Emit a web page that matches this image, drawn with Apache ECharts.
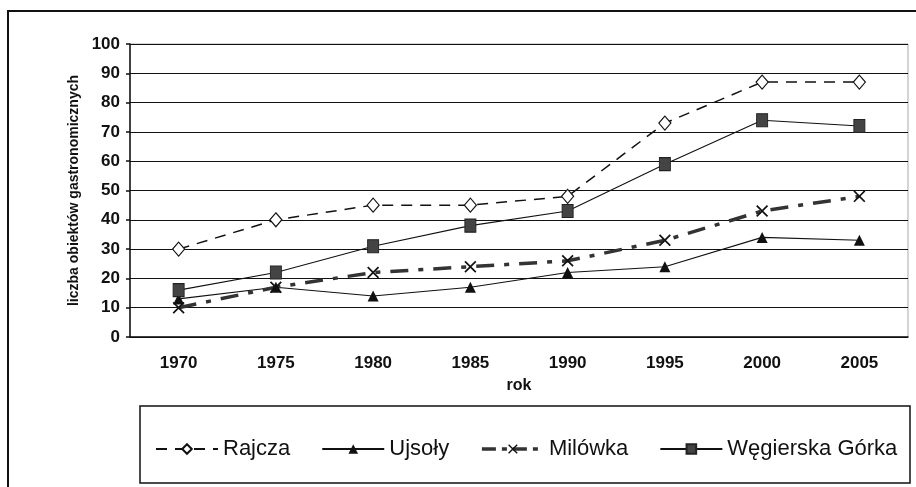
<!DOCTYPE html>
<html style="height: 100%">
<head>
  <meta charset="utf-8">
  <title>Liczba obiektów gastronomicznych</title>
  <script src="https://cdn.jsdelivr.net/npm/echarts@6/dist/echarts.min.js"></script>
</head>
<body style="margin: 0; height: 100%; background: #fff">
  <div id="main" style="width: 916px; height: 487px"></div>

  <script>
    const years = ['1970', '1975', '1980', '1985', '1990', '1995', '2000', '2005'];
    const rajcza = [30, 40, 45, 45, 48, 73, 87, 87];
    const ujsoly = [13, 17, 14, 17, 22, 24, 34, 33];
    const milowka = [10, 17, 22, 24, 26, 33, 43, 48];
    const wegierska = [16, 22, 31, 38, 43, 59, 74, 72];

    const crossPath = 'path://M0,1L1,0L5,4L9,0L10,1L6,5L10,9L9,10L5,6L1,10L0,9L4,5Z';
    const boldFont = { fontFamily: 'Liberation Sans, Arial', fontWeight: 'bold', color: '#111' };
    const milowkaLine = { color: '#333', width: 3.5, type: [18, 10, 5, 10] };

    const chart = echarts.init(document.getElementById('main'));

    chart.setOption({
      animation: false,
      backgroundColor: '#fff',
      graphic: [
        { type: 'rect', shape: { x: 8, y: 11, width: 930, height: 500 },
          style: { fill: 'none', stroke: '#111', lineWidth: 2 } },   // ramka zewnętrzna
        { type: 'rect', shape: { x: 140, y: 406, width: 770, height: 77 },
          style: { fill: 'none', stroke: '#111', lineWidth: 1.5 } }  // ramka legendy
      ],
      grid: { left: 130, right: 8, top: 44, bottom: 150, show: true, borderColor: '#aaa', borderWidth: 1 },
      legend: {
        left: 150,
        top: 433,
        itemWidth: 62,
        itemHeight: 12,
        itemGap: 31,
        textStyle: { fontFamily: 'Liberation Sans, Arial', fontSize: 22, color: '#111' },
        data: [
          'Rajcza',
          'Ujsoły',
          { name: 'Milówka', lineStyle: { width: 3.5, type: [14, 6, 5, 6] } },
          'Węgierska Górka'
        ]
      },
      xAxis: {
        type: 'category',
        data: years,
        name: 'rok',
        nameLocation: 'middle',
        nameGap: 41,
        nameTextStyle: Object.assign({ fontSize: 16 }, boldFont),
        axisLine: { lineStyle: { color: '#111', width: 1.5 } },
        axisTick: { length: 5, lineStyle: { color: '#111', width: 1.5 } },
        axisLabel: Object.assign({ fontSize: 17, margin: 18 }, boldFont)
      },
      yAxis: {
        type: 'value',
        min: 0,
        max: 100,
        interval: 10,
        name: 'liczba obiektów gastronomicznych',
        nameLocation: 'middle',
        nameGap: 48,
        nameTextStyle: Object.assign({ fontSize: 14 }, boldFont),
        axisLine: { show: true, lineStyle: { color: '#111', width: 1.5 } },
        axisTick: { show: true, length: 4, lineStyle: { color: '#111', width: 1.5 } },
        axisLabel: Object.assign({ fontSize: 17, margin: 10 }, boldFont),
        splitLine: { lineStyle: { color: '#111', width: 1 } }
      },
      series: [
        {
          name: 'Rajcza',
          type: 'line',
          data: rajcza,
          symbol: 'diamond',
          symbolSize: [12, 14],
          itemStyle: { color: '#fff', borderColor: '#111', borderWidth: 1.2 },
          lineStyle: { color: '#111', width: 1.5, type: [11, 8] }
        },
        {
          name: 'Ujsoły',
          type: 'line',
          data: ujsoly,
          symbol: 'triangle',
          symbolSize: 11,
          itemStyle: { color: '#111' },
          lineStyle: { color: '#111', width: 1.1 }
        },
        {
          name: 'Milówka',
          type: 'line',
          data: milowka,
          symbol: crossPath,
          symbolSize: 12,
          itemStyle: { color: '#111' },
          lineStyle: milowkaLine
        },
        {
          name: 'Węgierska Górka',
          type: 'line',
          data: wegierska,
          symbol: 'rect',
          symbolSize: [11, 13],
          itemStyle: { color: '#444', borderColor: '#222', borderWidth: 1 },
          lineStyle: { color: '#111', width: 1.1 }
        }
      ]
    });
  </script>
</body>
</html>
